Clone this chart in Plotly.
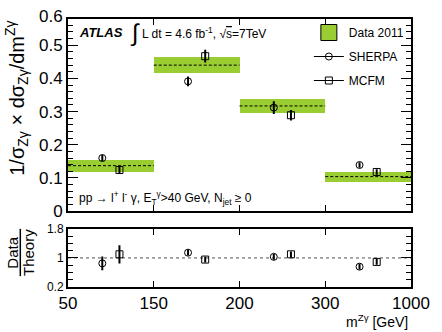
import plotly.graph_objects as go

# ---- data ----
bin_edges_labels = ["50", "150", "200", "300", "1000"]
bin_index = [0, 1, 2, 3]
data_vals = [0.137, 0.440, 0.317, 0.104]
data_unc = [0.018, 0.024, 0.022, 0.015]
sherpa_vals = [0.160, 0.391, 0.312, 0.139]
sherpa_err = [0.010, 0.015, 0.019, 0.008]
mcfm_vals = [0.124, 0.467, 0.289, 0.118]
mcfm_err = [0.010, 0.019, 0.016, 0.008]
ratio_sherpa = [0.85, 1.145, 1.03, 0.76]
ratio_sherpa_err = [0.19, 0.08, 0.08, 0.08]
ratio_mcfm = [1.10, 0.955, 1.10, 0.89]
ratio_mcfm_err = [0.25, 0.08, 0.08, 0.08]

GREEN = "#9acd32"
FONT = "Liberation Sans, Arial, sans-serif"

W, H = 442, 332
ML, MR, MT, MB = 68, 18, 15, 45
PW, PH = W - ML - MR, H - MT - MB

def py(px):  # pixel y -> paper y
    return (H - MB - px) / PH

def pxx(px):  # pixel x -> paper x
    return (px - ML) / PW

centers = [i + 0.5 for i in bin_index]
x_sherpa = [i + 0.4 for i in bin_index]
x_mcfm = [i + 0.6 for i in bin_index]

fig = go.Figure()

# green uncertainty bands
fig.add_trace(go.Bar(
    x=centers, y=[2 * u for u in data_unc],
    base=[v - u for v, u in zip(data_vals, data_unc)],
    width=1.0, marker=dict(color=GREEN, line=dict(width=0)),
    showlegend=False, xaxis="x", yaxis="y", hoverinfo="skip"))

# dashed central values
dx, dy = [], []
for i, v in zip(bin_index, data_vals):
    dx += [i, i + 1, None]
    dy += [v, v, None]
fig.add_trace(go.Scatter(x=dx, y=dy, mode="lines",
                         line=dict(color="black", width=1, dash="3px,2px"),
                         showlegend=False, xaxis="x", yaxis="y"))

# theory points
fig.add_trace(go.Scatter(
    x=x_sherpa, y=sherpa_vals, mode="markers",
    marker=dict(symbol="circle-open", size=7, color="black", line=dict(width=1)),
    error_y=dict(type="data", array=sherpa_err, color="black", thickness=2, width=0),
    showlegend=False, xaxis="x", yaxis="y"))
fig.add_trace(go.Scatter(
    x=x_mcfm, y=mcfm_vals, mode="markers",
    marker=dict(symbol="square-open", size=7, color="black", line=dict(width=1)),
    error_y=dict(type="data", array=mcfm_err, color="black", thickness=2, width=0),
    showlegend=False, xaxis="x", yaxis="y"))

# legend entries
fig.add_trace(go.Scatter(x=[None], y=[None], mode="markers", name="Data 2011",
                         marker=dict(symbol="square", size=16, color=GREEN,
                                     line=dict(color="black", width=1)),
                         legendgroup="a", xaxis="x", yaxis="y"))
fig.add_trace(go.Scatter(x=[None], y=[None], mode="lines+markers", name="SHERPA",
                         line=dict(color="black", width=1),
                         marker=dict(symbol="circle-open", size=7, color="black"),
                         legendgroup="b", xaxis="x", yaxis="y"))
fig.add_trace(go.Scatter(x=[None], y=[None], mode="lines+markers", name="MCFM",
                         line=dict(color="black", width=1),
                         marker=dict(symbol="square-open", size=7, color="black"),
                         legendgroup="c", xaxis="x", yaxis="y"))

# ratio panel
fig.add_trace(go.Scatter(x=[0, 4], y=[1, 1], mode="lines",
                         line=dict(color="#555555", width=1, dash="3px,3px"),
                         showlegend=False, xaxis="x2", yaxis="y2"))
fig.add_trace(go.Scatter(
    x=x_sherpa, y=ratio_sherpa, mode="markers",
    marker=dict(symbol="circle-open", size=7, color="black", line=dict(width=1)),
    error_y=dict(type="data", array=ratio_sherpa_err, color="black", thickness=2, width=0),
    showlegend=False, xaxis="x2", yaxis="y2"))
fig.add_trace(go.Scatter(
    x=x_mcfm, y=ratio_mcfm, mode="markers",
    marker=dict(symbol="square-open", size=7, color="black", line=dict(width=1)),
    error_y=dict(type="data", array=ratio_mcfm_err, color="black", thickness=2, width=0),
    showlegend=False, xaxis="x2", yaxis="y2"))

axis_common = dict(showline=True, linewidth=2, linecolor="black", mirror="ticks",
                   ticks="inside", tickcolor="black", showgrid=False, zeroline=False)

fig.update_layout(
    width=W, height=H, margin=dict(l=ML, r=MR, t=MT, b=MB),
    paper_bgcolor="white", plot_bgcolor="white",
    font=dict(family=FONT, color="black"),
    bargap=0,
    xaxis=dict(domain=[0, 1], range=[0, 4], anchor="y",
               tickvals=[0, 1, 2, 3, 4], showticklabels=False,
               ticklen=6, tickwidth=1, **axis_common),
    yaxis=dict(domain=[py(210), 1], range=[0, 0.579], anchor="x",
               tickvals=[0, 0.1, 0.2, 0.3, 0.4, 0.5],
               ticktext=["0", "0.1", "0.2", "0.3", "0.4", "0.5"],
               ticklen=10, tickwidth=1, tickfont=dict(size=17),
               minor=dict(dtick=0.02, tick0=0, ticklen=5, tickcolor="black", ticks="inside"),
               **axis_common),
    xaxis2=dict(domain=[0, 1], range=[0, 4], anchor="y2",
                tickvals=[0, 1, 2, 3, 4], ticktext=bin_edges_labels,
                ticklabeloverflow="allow",
                tickfont=dict(size=17), ticklen=6, tickwidth=1, **axis_common),
    yaxis2=dict(domain=[0, py(228)], range=[0.2, 1.8], anchor="x2",
                tickvals=[0.2, 1, 1.8], ticktext=["0.2", "1", "1.8"],
                tickfont=dict(size=12), ticklen=10, tickwidth=1,
                minor=dict(dtick=0.2, tick0=0.2, ticklen=5, tickcolor="black", ticks="inside"),
                **axis_common),
    legend=dict(x=pxx(318), y=py(14), xanchor="left", yanchor="top",
                bgcolor="rgba(0,0,0,0)", font=dict(size=12, family=FONT),
                itemwidth=30, tracegroupgap=5),
)

ann = [
    dict(text="0.6", x=pxx(65), y=py(12), xanchor="right", yanchor="middle",
         font=dict(size=17)),
    dict(text="<b><i>ATLAS</i></b>", x=pxx(77), y=py(29), xanchor="left", yanchor="middle",
         font=dict(size=13)),
    dict(text="∫", x=pxx(130), y=py(29), xanchor="left", yanchor="middle",
         font=dict(size=24)),
    dict(text="L dt = 4.6 fb<sup>-1</sup>, √<span style='text-decoration:overline'>s</span>=7TeV",
         x=pxx(143), y=py(29), xanchor="left", yanchor="middle", font=dict(size=12)),
    dict(text="pp → l<sup>+</sup> l<sup>-</sup> γ, E<sub>T</sub><sup>γ</sup>>40 GeV, N<sub>jet</sub> ≥ 0",
         x=pxx(77), y=py(197), xanchor="left", yanchor="middle", font=dict(size=12)),
    dict(text="1/σ<sub>Zγ</sub> × dσ<sub>Zγ</sub>/dm<sup>Zγ</sup>", textangle=-90,
         x=pxx(15), y=py(95), xanchor="center", yanchor="middle", font=dict(size=20)),
    dict(text="Data", textangle=-90, x=pxx(10), y=py(252), xanchor="center",
         yanchor="middle", font=dict(size=15)),
    dict(text="Theory", textangle=-90, x=pxx(27), y=py(252), xanchor="center",
         yanchor="middle", font=dict(size=15)),
    dict(text="m<sup>Zγ</sup> [GeV]", x=pxx(423), y=py(322), xanchor="right",
         yanchor="middle", font=dict(size=14)),
]
for a in ann:
    a.update(xref="paper", yref="paper", showarrow=False)
fig.update_layout(annotations=ann)

fig.add_shape(type="line", xref="paper", yref="paper",
              x0=pxx(18.5), x1=pxx(18.5), y0=py(228), y1=py(276),
              line=dict(color="black", width=1.5))

fig.write_html("out.html", config={"displayModeBar": False})
